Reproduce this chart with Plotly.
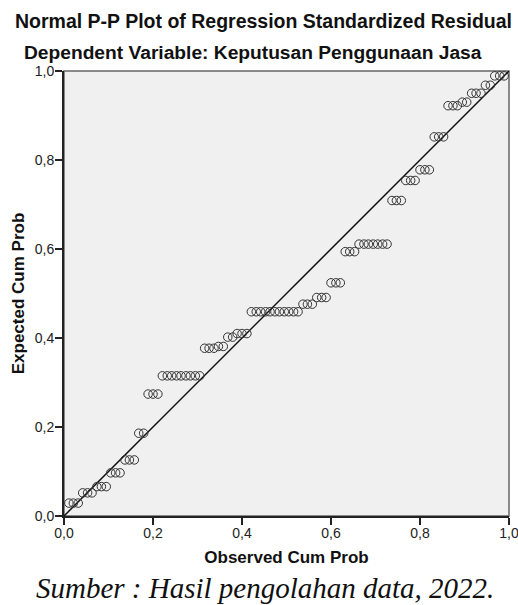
import plotly.graph_objects as go

# Observed cumulative probability (x)
observed = [0.011, 0.021, 0.032, 0.042, 0.053, 0.063, 0.074, 0.084, 0.095, 0.105,
            0.116, 0.126, 0.137, 0.147, 0.158, 0.168, 0.179, 0.189, 0.200, 0.211,
            0.221, 0.232, 0.242, 0.253, 0.263, 0.274, 0.284, 0.295, 0.305, 0.316,
            0.326, 0.337, 0.347, 0.358, 0.368, 0.379, 0.389, 0.400, 0.411, 0.421,
            0.432, 0.442, 0.453, 0.463, 0.474, 0.484, 0.495, 0.505, 0.516, 0.526,
            0.537, 0.547, 0.558, 0.568, 0.579, 0.589, 0.600, 0.611, 0.621, 0.632,
            0.642, 0.653, 0.663, 0.674, 0.684, 0.695, 0.705, 0.716, 0.726, 0.737,
            0.747, 0.758, 0.768, 0.779, 0.789, 0.800, 0.811, 0.821, 0.832, 0.842,
            0.853, 0.863, 0.874, 0.884, 0.895, 0.905, 0.916, 0.926, 0.937, 0.947,
            0.958, 0.968, 0.979, 0.989]

# Expected cumulative probability (y)
expected = [0.029, 0.029, 0.029, 0.052, 0.052, 0.052, 0.066, 0.066, 0.066, 0.097,
            0.097, 0.097, 0.126, 0.126, 0.126, 0.186, 0.186, 0.274, 0.274, 0.274,
            0.315, 0.315, 0.315, 0.315, 0.315, 0.315, 0.315, 0.315, 0.315, 0.377,
            0.377, 0.377, 0.381, 0.381, 0.402, 0.402, 0.410, 0.410, 0.410, 0.459,
            0.459, 0.459, 0.459, 0.459, 0.459, 0.459, 0.459, 0.459, 0.459, 0.459,
            0.476, 0.476, 0.476, 0.491, 0.491, 0.491, 0.524, 0.524, 0.524, 0.594,
            0.594, 0.594, 0.611, 0.611, 0.611, 0.611, 0.611, 0.611, 0.611, 0.709,
            0.709, 0.709, 0.754, 0.754, 0.754, 0.778, 0.778, 0.778, 0.852, 0.852,
            0.852, 0.922, 0.922, 0.922, 0.930, 0.930, 0.950, 0.950, 0.950, 0.968,
            0.968, 0.989, 0.989, 0.989]

diag_x = [0.0, 1.0]
diag_y = [0.0, 1.0]

tick_vals = [0.0, 0.2, 0.4, 0.6, 0.8, 1.0]
tick_text = ["0,0", "0,2", "0,4", "0,6", "0,8", "1,0"]

title_text = "Normal P-P Plot of Regression Standardized Residual"
subtitle_text = "Dependent Variable: Keputusan Penggunaan Jasa"
x_title = "Observed Cum Prob"
y_title = "Expected Cum Prob"
caption_text = "Sumber : Hasil pengolahan data, 2022."

SANS = "Liberation Sans, Arial, sans-serif"
SERIF = "Liberation Serif, Times New Roman, serif"

PLOT_L, PLOT_W = 63.5, 445.5


def px_to_paper_x(px):
    return (px - PLOT_L) / PLOT_W


fig = go.Figure()
fig.add_trace(go.Scatter(x=diag_x, y=diag_y, mode="lines",
                         line=dict(color="#111111", width=1.5),
                         hoverinfo="skip", showlegend=False))
fig.add_trace(go.Scatter(x=observed, y=expected, mode="markers",
                         marker=dict(symbol="circle-open", size=8.5,
                                     color="#333333", line=dict(width=1)),
                         showlegend=False))

# frame (top/right lines lighter)
fig.add_shape(type="rect", xref="paper", yref="paper", x0=0, y0=0, x1=1, y1=1,
              line=dict(color="#666666", width=1.5), layer="below")

axis_common = dict(range=[0, 1], tickvals=tick_vals, ticktext=tick_text,
                   showgrid=False, zeroline=False, showline=True,
                   linecolor="#222222", linewidth=2, ticks="outside",
                   ticklen=7, tickwidth=1.5, tickcolor="#222222",
                   automargin=False, ticklabeloverflow="allow",
                   tickfont=dict(family=SANS, size=14, color="#222222"))

fig.update_xaxes(**axis_common, ticklabelstandoff=-4,
                 title=dict(text="<b>" + x_title + "</b>", standoff=11,
                            font=dict(family=SANS, size=17, color="#111111")))
fig.update_yaxes(**axis_common, ticklabelstandoff=-2,
                 title=dict(text="<b>" + y_title + "</b>", standoff=6,
                            font=dict(family=SANS, size=17, color="#111111")))

annotations = [
    dict(text="<b>" + title_text + "</b>", x=px_to_paper_x(263), xref="paper",
         y=(516 - 20.5) / 445, yref="paper", yanchor="middle", showarrow=False,
         xanchor="center", font=dict(family=SANS, size=19.5, color="#111111")),
    dict(text="<b>" + subtitle_text + "</b>", x=px_to_paper_x(252.5), xref="paper",
         y=(516 - 52.5) / 445, yref="paper", yanchor="middle", showarrow=False,
         xanchor="center", font=dict(family=SANS, size=19.2, color="#111111")),
    dict(text="<i>" + caption_text + "</i>", x=px_to_paper_x(265), xref="paper",
         y=(516 - 588) / 445, yref="paper", yanchor="middle", showarrow=False,
         xanchor="center", font=dict(family=SERIF, size=29, color="#111111")),
]

fig.update_layout(width=518, height=605,
                  margin=dict(l=63.5, r=9, t=71, b=89, pad=0),
                  paper_bgcolor="white", plot_bgcolor="#F0F0F0",
                  annotations=annotations)

fig.write_html("out.html", config={"displayModeBar": False},
               post_script="document.body.style.margin='0';"
                           "document.body.style.overflow='hidden';")
